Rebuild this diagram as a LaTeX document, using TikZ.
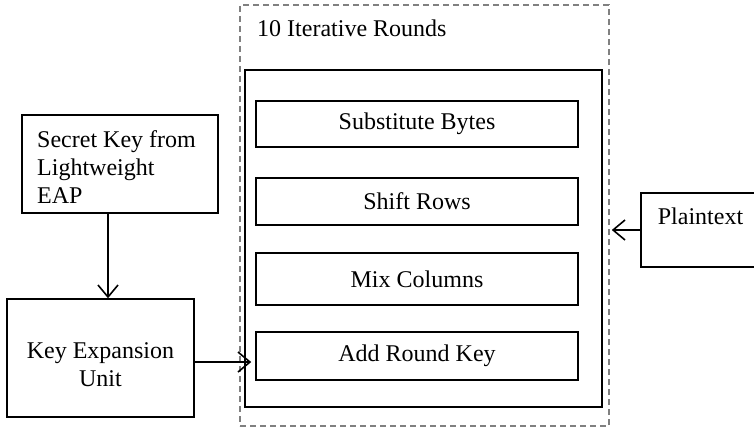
\documentclass[tikz,border=0pt]{standalone}
\usepackage{fontspec}
\setmainfont{Liberation Serif}
\usetikzlibrary{arrows.meta}
\begin{document}
\begin{tikzpicture}[x=1pt,y=-1pt,
  font=\fontsize{24}{28}\selectfont,
  box/.style={draw, line width=1.5pt, inner sep=0pt},
  roundbox/.style={draw=gray, line width=1.5pt, dash pattern=on 6pt off 4pt, inner sep=0pt},
  txt/.style={inner sep=0pt},
  arr/.style={line width=1.6pt, -{Straight Barb[length=12pt,width=20pt,line width=1.6pt]}}]
\clip (0,0) rectangle (754,428);

% dashed frame of the round loop and its solid body
\node[roundbox, minimum width=369pt, minimum height=421pt] (outer) at (424.5,215.5) {};
\node[txt, anchor=base west] (title) at (257,37) {10 Iterative Rounds};
\node[box, minimum width=357pt, minimum height=337pt] (inner) at (423.5,238.5) {};

% the four round stages
\node[box, minimum width=322pt, minimum height=46pt] (sb)  at (417,124)   {Substitute Bytes};
\node[box, minimum width=322pt, minimum height=47pt] (sr)  at (417,201.5) {Shift Rows};
\node[box, minimum width=322pt, minimum height=52pt] (mc)  at (417,279)   {Mix Columns};
\node[box, minimum width=322pt, minimum height=48pt] (ark) at (417,356)   {Add Round Key};

% key path
\node[box, minimum width=196pt, minimum height=98pt] (sk) at (120,164) {};
\node[txt, anchor=north west, align=left] (sktext) at (37,130.6)
  {Secret Key from\\Lightweight\\EAP};
\node[box, minimum width=187pt, minimum height=118pt] (ke) at (100.5,358) {};
\node[txt, anchor=north, align=center] (ketext) at (100.5,342.6)
  {Key Expansion\\Unit};

% plaintext input
\node[box, minimum width=130pt, minimum height=74pt] (pt) at (706,230) {};
\node[txt, anchor=base] (pttext) at (700.5,224) {Plaintext};

% connectors
\draw[arr] ([xshift=-12pt]sk.south) -- ([xshift=-12pt]sk.south |- ke.north);
\draw[arr] ([yshift=-4pt]ke.east) -- ([xshift=-4pt,yshift=-4pt]ke.east -| ark.west);
\draw[arr] (pt.west) -- ([xshift=2pt]pt.west -| outer.east);
\end{tikzpicture}
\end{document}
